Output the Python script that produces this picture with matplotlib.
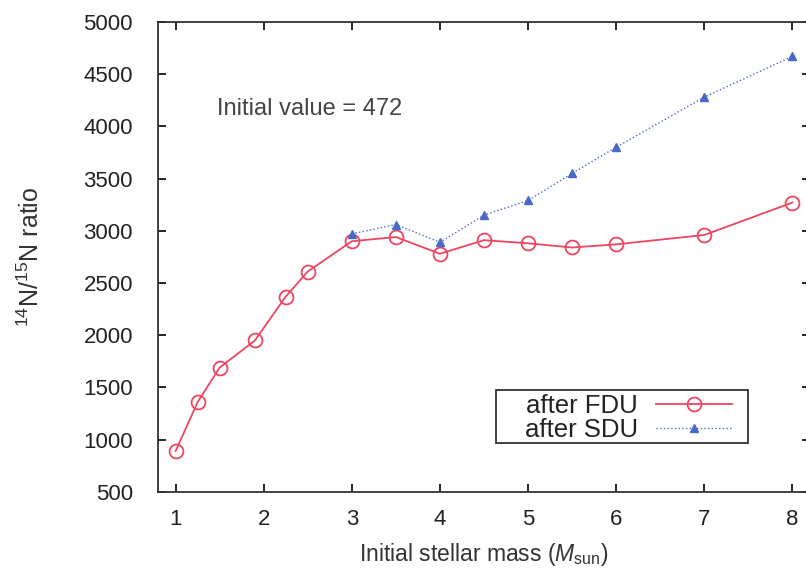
import matplotlib

matplotlib.use("Agg")
import matplotlib.pyplot as plt
from matplotlib.patches import Rectangle

plt.rcParams["font.family"] = ["Liberation Sans", "DejaVu Sans"]
plt.rcParams["mathtext.fontset"] = "custom"
plt.rcParams["mathtext.rm"] = "Liberation Sans"
plt.rcParams["mathtext.it"] = "Liberation Sans:italic"

# masses (Msun) and 14N/15N ratios
mass_fdu = [1.0, 1.25, 1.5, 1.9, 2.25, 2.5, 3.0, 3.5, 4.0, 4.5, 5.0, 5.5, 6.0, 7.0, 8.0]
ratio_fdu = [890, 1360, 1690, 1950, 2370, 2610, 2900, 2940, 2780, 2910, 2880, 2840, 2870, 2960, 3270]
mass_sdu = [3.0, 3.5, 4.0, 4.5, 5.0, 5.5, 6.0, 7.0, 8.0]
ratio_sdu = [2970, 3060, 2890, 3150, 3290, 3550, 3800, 4280, 4670]

xticks = [1, 2, 3, 4, 5, 6, 7, 8]
yticks = [500, 1000, 1500, 2000, 2500, 3000, 3500, 4000, 4500, 5000]

red = "#ee4560"
blue = "#4a68c8"

fig = plt.figure(figsize=(8.06, 5.76), dpi=100)
ax = fig.add_axes([0.196, 0.146, 0.809, 0.816])

ax.plot(mass_fdu, ratio_fdu, color=red, lw=1.3, marker="o", ms=10,
        mfc="none", mec=red, mew=1.3, label="after FDU")
ax.plot(mass_sdu, ratio_sdu, color=blue, lw=1.0, ls=":", marker="^", ms=6,
        mfc=blue, mec=blue, label="after SDU")

ax.set_xlim(0.8, 8.2)
ax.set_ylim(500, 5000)
ax.set_xticks(xticks)
ax.set_yticks(yticks)
ax.tick_params(direction="in", top=True, right=True, length=6, width=1.2,
               labelsize=16, labelcolor="#222222")
ax.tick_params(axis="x", pad=12)
ax.tick_params(axis="y", pad=18)
for s in ax.spines.values():
    s.set_linewidth(1.3)
    s.set_color("#333333")

ax.set_xlabel(r"Initial stellar mass ($M_{\rm sun}$)", fontsize=16.5, color="#333333", labelpad=8)
ax.set_ylabel(r"$^{14}$N/$^{15}$N ratio", fontsize=18, color="#333333", labelpad=28)

ax.text(1.47, 4170, "Initial value = 472", fontsize=17, color="#444444",
        ha="left", va="center")

# gnuplot-style key: text left, sample right, in a plain box
leg = ax.legend(loc="upper left", bbox_to_anchor=(525 / 806, 1 - 394 / 576),
                bbox_transform=fig.transFigure, markerfirst=False, fontsize=18.5,
                frameon=False, handlelength=2.95, borderpad=0, labelspacing=0.0,
                handletextpad=0.7, borderaxespad=0)
for t in leg.get_texts():
    t.set_color("#222222")
fig.patches.append(Rectangle((496 / 806, 1 - 443 / 576), 252 / 806, 53 / 576,
                             transform=fig.transFigure, fill=False,
                             edgecolor="#333333", lw=1.3, zorder=5))

fig.savefig("out.png", dpi=100)
